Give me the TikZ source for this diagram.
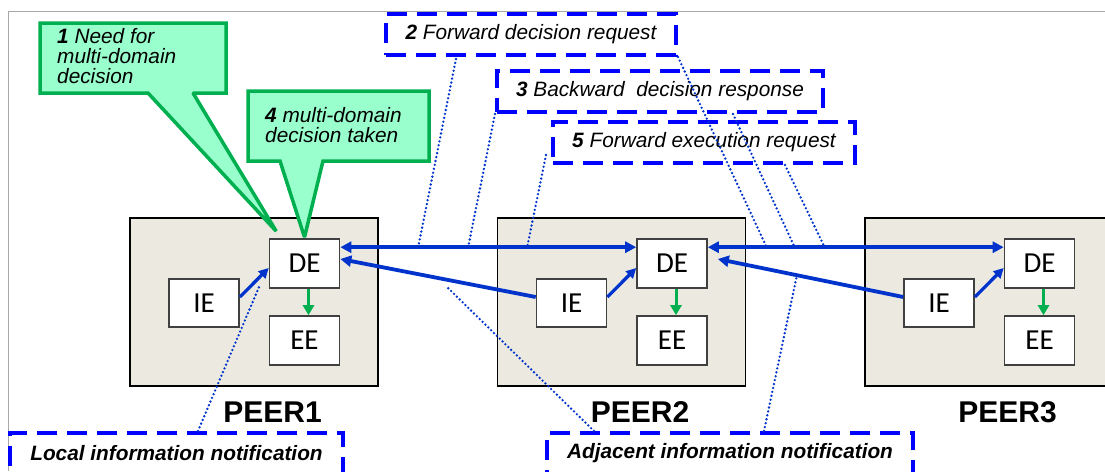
\documentclass[tikz,border=0pt]{standalone}
\usepackage{fontspec}
\setmainfont{Liberation Sans}
\newfontfamily\calibfont{Carlito}
\usetikzlibrary{arrows.meta,calc}

\definecolor{peerfill}{HTML}{ECE9E0}
\definecolor{linkblue}{HTML}{0033CC}
\definecolor{dashblue}{HTML}{0000FF}
\definecolor{calloutfill}{HTML}{99FFCC}
\definecolor{calloutline}{HTML}{00B050}
\definecolor{framegray}{HTML}{A8A8A8}

\tikzset{
  peerbox/.style={draw=black, line width=1.2pt, fill=peerfill,
    minimum width=248pt, minimum height=168pt, inner sep=0pt},
  unitbox/.style={draw=black!75, line width=1.6pt, fill=white,
    minimum width=70pt, minimum height=49pt, inner sep=0pt,
    font=\calibfont\fontsize{29}{30}\selectfont},
  peerlabel/.style={font=\bfseries\fontsize{30}{32}\selectfont,
    inner sep=0pt, anchor=base},
  link/.style={draw=linkblue, line width=3.8pt,
    -{Triangle[length=11pt,width=11pt]}},
  dlink/.style={draw=linkblue, line width=3.8pt,
    {Triangle[length=11pt,width=11pt]}-{Triangle[length=11pt,width=11pt]}},
  feed/.style={draw=linkblue, line width=3.2pt,
    -{Triangle[length=10pt,width=10pt]}},
  exec/.style={draw=calloutline, line width=3pt,
    -{Triangle[length=10pt,width=11pt]}},
  stepnote/.style={draw=dashblue, line width=4pt, dash pattern=on 20pt off 10pt,
    minimum height=41pt, inner sep=0pt,
    font=\itshape\fontsize{20.8}{22}\selectfont},
  notifnote/.style={stepnote, font=\bfseries\itshape\fontsize{20.8}{22}\selectfont},
  leader/.style={draw=linkblue, line width=2.6pt, line cap=round,
    dash pattern=on 0pt off 4pt},
  callout/.style={draw=calloutline, line width=3.5pt, fill=calloutfill,
    line join=miter, miter limit=2},
  callouttext/.style={anchor=base west, inner sep=0pt, align=left,
    font=\itshape\fontsize{20.8}{19.7}\selectfont},
}

\begin{document}
\begin{tikzpicture}[x=1pt,y=-1pt]
\useasboundingbox (0,0) rectangle (1105,471);
\clip (0,0) rectangle (1105,471);

% slide frame
\draw[framegray, line width=1pt] (8.5,471) -- (8.5,11.5) -- (1105,11.5);

% the three peers with their engines
\foreach \i/\cx in {1/254, 2/621.5, 3/989} {
  \node[peerbox] (peer\i) at (\cx,302) {};
  \node[unitbox] (de\i) at (\cx+50.5,263.5) {DE};
  \node[unitbox, minimum height=48pt] (ie\i) at (\cx-50,303) {IE};
  \node[unitbox] (ee\i) at (\cx+50.5,340.5) {EE};
  \node[peerlabel] (lab\i) at (\cx+18.5,422) {PEER\i};
  \draw[feed] ($(ie\i.east)+(0,-6)$) -- ($(de\i.west)+(0,4.5)$);
  \draw[exec] ($(de\i.south)+(4,0)$) -- ($(ee\i.north)+(4,0)$);
}

% inter-peer links
\draw[dlink] ($(de1.north east)+(0,9)$) -- ($(de2.north west)+(0,9)$);
\draw[dlink] ($(de2.north east)+(0,9)$) -- ($(de3.north west)+(0,9)$);
\draw[link] ($(ie2.west)+(0,-6)$) -- ($(de1.east)+(0,-4.5)$);
\draw[link] ($(ie3.west)+(0,-6)$) -- ($(de2.east)+(10,-4.5)$);

% step notes
\node[stepnote, minimum width=290pt] (n2) at (531,34.5)
  {\textbf{2} Forward decision request};
\node[stepnote, minimum width=326pt] (n3) at (660,91.5)
  {\textbf{3} Backward\ \ decision response};
\node[stepnote, minimum width=302pt] (n5) at (704,142.5)
  {\textbf{5} Forward execution request};
\node[notifnote, minimum width=333pt] (nloc) at (176.5,453.5)
  {Local information notification};
\node[notifnote, minimum width=366pt] (nadj) at (730,453.5)
  {Adjacent information notification};

% points where the leaders meet the links
\coordinate (a1) at (418,248);
\coordinate (a3) at (468,248);
\coordinate (a5) at (527,248);
\coordinate (b2) at (767,248);
\coordinate (b3) at (795,248);
\coordinate (b5) at (825,248);
\coordinate (c1) at (259,287);
\coordinate (c2) at (448,288);
\coordinate (c3) at (797,275);

% leaders
\draw[leader] ($(n2.south west)+(72,2)$) -- (a1);
\draw[leader] ($(n2.south east)+(0,0)$) -- (b2);
\draw[leader] ($(n3.south west)+(0,0)$) -- (a3);
\draw[leader] ($(n3.south west)+(238,0)$) -- (b3);
\draw[leader] ($(n5.south west)+(-5,-10)$) -- (a5);
\draw[leader] ($(n5.south west)+(234,0)$) -- (b5);
\draw[leader] ($(nloc.north west)+(190,0)$) -- (c1);
\draw[leader] ($(nadj.north west)+(49,0)$) -- (c2);
\draw[leader] ($(nadj.north west)+(219,0)$) -- (c3);

% callouts
\coordinate (tip1) at ($(de1.north west)+(7.5,-7)$);
\coordinate (tip4) at ($(de1.north)+(0,-1)$);
\draw[callout] (40,23) -- (226,23) -- (226,93) -- (193,93) -- (tip1)
  -- (148,93) -- (40,93) -- cycle;
\draw[callout] (248,91) -- (429,91) -- (429,161) -- (323,161) -- (tip4)
  -- (280,161) -- (248,161) -- cycle;
% multi-line nodes: the base anchor sits on the last line
\node[callouttext] (c1text) at (57,83)
  {\textbf{1} Need for\\multi-domain\\decision};
\node[callouttext] (c4text) at (265,142)
  {\textbf{4} multi-domain\\decision taken};
\end{tikzpicture}
\end{document}
